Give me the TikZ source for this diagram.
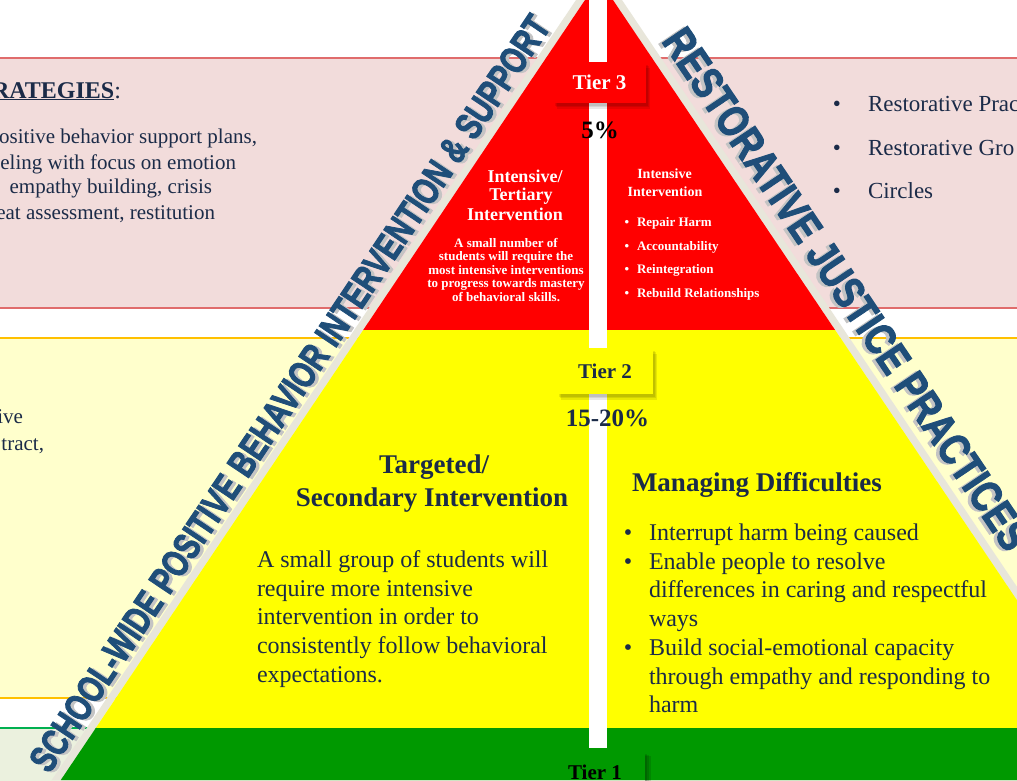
\documentclass[tikz,border=0pt]{standalone}
\usepackage{fontspec}
\setmainfont{Liberation Serif}
\newfontfamily\diagfont{Liberation Sans}[FakeBold=2.5]
\usepackage{graphicx}
\definecolor{pinkfill}{HTML}{F2DCDB}
\definecolor{pinkline}{HTML}{E06C6C}
\definecolor{ylwfill}{HTML}{FFFFCC}
\definecolor{ylwline}{HTML}{FFC000}
\definecolor{grnfill}{HTML}{EBF1DE}
\definecolor{grnline}{HTML}{00B050}
\definecolor{tred}{HTML}{FF0000}
\definecolor{tyellow}{HTML}{FFFF00}
\definecolor{tgreen}{HTML}{009900}
\definecolor{navy}{HTML}{1B2B48}
\definecolor{diagblue}{HTML}{1F4E79}
\definecolor{diagshadow}{HTML}{C4C4C4}
\definecolor{stripcol}{HTML}{E8E6DA}
\newcommand\myfs[1]{\fontsize{#1}{#1}\selectfont}
\begin{document}
\begin{tikzpicture}[x=1pt,y=-1pt,
  lbl/.style={inner sep=0pt,outer sep=0pt,anchor=base},
  lw/.style={lbl,anchor=base west},
  le/.style={lbl,anchor=base east},
  navytxt/.style={text=navy},
  whitetxt/.style={text=white},
  softshadow/.style={
    preaction={fill=black,opacity=0.09,transform canvas={xshift=2pt,yshift=-2.5pt}},
    preaction={fill=black,opacity=0.09,transform canvas={xshift=3pt,yshift=-4pt}},
    preaction={fill=black,opacity=0.09,transform canvas={xshift=4pt,yshift=-5.5pt}}},
  tierbox/.style={inner sep=0pt,minimum width=93,minimum height=41,softshadow},
  diag/.style={inner sep=0pt,outer sep=0pt,anchor=base},
  lightbox/.style={line width=1.5pt},
]
\useasboundingbox (0,0) rectangle (1017,780);
\clip (0,0) rectangle (1017,780);
\fill[white] (0,0) rectangle (1017,780);
% background strategy boxes
\draw[lightbox,draw=pinkline,fill=pinkfill] (-10,58) rectangle (1027,308);
\draw[lightbox,draw=ylwline,fill=ylwfill] (-10,338) rectangle (1027,698);
\draw[lightbox,draw=grnline,fill=grnfill] (-10,728) rectangle (1027,800);
% edge strips
\fill[stripcol] (576,0) -- (585,0) -- (60.8,780) -- (51.8,780) -- cycle;
\fill[stripcol] (613,0) -- (622,0) -- (1147,780) -- (1138,780) -- cycle;
% pyramid tiers
\fill[tred] (585,0) -- (613,0) -- (835.1,330) -- (363.2,330) -- cycle;
\fill[tyellow] (363.2,330) -- (835.1,330) -- (1103,728) -- (95.8,728) -- cycle;
\fill[tgreen] (95.8,728) -- (1103,728) -- (1138,780) -- (60.8,780) -- cycle;
% white divider
\fill[white] (589,0) rectangle (607,748);
% diagonal titles
\node[diag,text=diagshadow,rotate=56.1] (lshadow) at (304,401.5)
  {\diagfont\bfseries\myfs{38}\scalebox{0.755}[1]{SCHOOL-WIDE POSITIVE BEHAVIOR INTERVENTION \& SUPPORT}};
\node[diag,text=diagblue,rotate=56.1] (ltitle) at (300.5,400.5)
  {\diagfont\bfseries\myfs{38}\scalebox{0.755}[1]{SCHOOL-WIDE POSITIVE BEHAVIOR INTERVENTION \& SUPPORT}};
\node[diag,text=diagshadow,rotate=-56] (rshadow) at (830.5,298.5)
  {\diagfont\bfseries\myfs{44}\scalebox{0.8}[1]{RESTORATIVE JUSTICE PRACTICES}};
\node[diag,text=diagblue,rotate=-56] (rtitle) at (834,297.5)
  {\diagfont\bfseries\myfs{44}\scalebox{0.8}[1]{RESTORATIVE JUSTICE PRACTICES}};
% tier boxes
\node[tierbox,fill=tred,text=white,font=\bfseries\myfs{21}] (t3) at (599.5,82.5) {Tier 3};
\node[tierbox,fill=tyellow,text=navy,font=\bfseries\myfs{21},minimum width=96,minimum height=46] (t2) at (605,371) {Tier 2};
\node[inner sep=0pt,minimum width=95,minimum height=40] (t1) at (597.5,772) {};
\fill[black,opacity=0.12] ([xshift=0pt,yshift=-2pt]t1.north east) rectangle ([xshift=2pt]t1.south east);
\fill[black,opacity=0.12] ([xshift=0pt,yshift=-3pt]t1.north east) rectangle ([xshift=4pt]t1.south east);
\fill[black,opacity=0.12] ([xshift=0pt,yshift=-4pt]t1.north east) rectangle ([xshift=6pt]t1.south east);
\node[lbl,text=black,font=\bfseries\myfs{21}] (t1txt) at (595,779) {Tier 1};
\node[lbl,text=black,font=\bfseries\myfs{25}] (p3) at (600,138) {5\%};
\node[lbl,navytxt,font=\bfseries\myfs{25}] (p2) at (607.5,426.5) {15-20\%};
% tier 3 left
\node[lbl,whitetxt,font=\bfseries\myfs{18}] (h3a) at (525,182) {Intensive/};
\node[lbl,whitetxt,font=\bfseries\myfs{18}] (h3b) at (521,200.5) {Tertiary};
\node[lbl,whitetxt,font=\bfseries\myfs{18}] (h3c) at (515,220) {Intervention};
\node[lbl,whitetxt,font=\bfseries\myfs{13}] (d3a) at (506,247) {A small number of};
\node[lbl,whitetxt,font=\bfseries\myfs{13}] (d3b) at (506,260.5) {students will require the};
\node[lbl,whitetxt,font=\bfseries\myfs{13}] (d3c) at (506,274) {most intensive interventions};
\node[lbl,whitetxt,font=\bfseries\myfs{13}] (d3d) at (506,287.5) {to progress towards mastery};
\node[lbl,whitetxt,font=\bfseries\myfs{13}] (d3e) at (506,301) {of behavioral skills.};
% tier 3 right
\node[lbl,whitetxt,font=\bfseries\myfs{14}] (r3a) at (664.5,178) {Intensive};
\node[lbl,whitetxt,font=\bfseries\myfs{14}] (r3b) at (665,196) {Intervention};
\foreach \yy/\tt [count=\i] in {226.7/Repair Harm,250/Accountability,273.5/Reintegration,297.7/Rebuild Relationships}{
  \node[lbl,whitetxt,font=\bfseries\myfs{13}] (r3bul\i) at (627,\yy) {•};
  \node[lw,whitetxt,font=\bfseries\myfs{13}] (r3item\i) at (637,\yy) {\tt};
}
% tier 2 left
\node[lbl,navytxt,font=\bfseries\myfs{27}] (h2a) at (434,473) {Targeted/};
\node[lbl,navytxt,font=\bfseries\myfs{27}] (h2b) at (432,506) {Secondary Intervention};
\node[lw,navytxt,font=\myfs{24}] (d2a) at (257,567) {A small group of students will};
\node[lw,navytxt,font=\myfs{24}] (d2b) at (257,596) {require more intensive};
\node[lw,navytxt,font=\myfs{24}] (d2c) at (257,624.5) {intervention in order to};
\node[lw,navytxt,font=\myfs{24}] (d2d) at (257,653) {consistently follow behavioral};
\node[lw,navytxt,font=\myfs{24}] (d2e) at (257,682) {expectations.};
% tier 2 right
\node[lw,navytxt,font=\bfseries\myfs{27}] (h2r) at (632,491) {Managing Difficulties};
\node[lbl,navytxt,font=\myfs{24}] (m2b1) at (628,540) {•};
\node[lbl,navytxt,font=\myfs{24}] (m2b2) at (628,569) {•};
\node[lbl,navytxt,font=\myfs{24}] (m2b3) at (628,655) {•};
\node[lw,navytxt,font=\myfs{24}] (m2a) at (649,540) {Interrupt harm being caused};
\node[lw,navytxt,font=\myfs{24}] (m2b) at (649,569) {Enable people to resolve};
\node[lw,navytxt,font=\myfs{24}] (m2c) at (649,597.5) {differences in caring and respectful};
\node[lw,navytxt,font=\myfs{24}] (m2d) at (649,626) {ways};
\node[lw,navytxt,font=\myfs{24}] (m2e) at (649,655) {Build social-emotional capacity};
\node[lw,navytxt,font=\myfs{24}] (m2f) at (649,684) {through empathy and responding to};
\node[lw,navytxt,font=\myfs{24}] (m2g) at (649,712.5) {harm};
% left pink strategies text
\node[le,navytxt,font=\myfs{24}] (sthead) at (121,98) {\underline{\textbf{RATEGIES}}:};
\node[le,navytxt,font=\myfs{21}] (st1) at (257,143) {ositive behavior support plans,};
\node[le,navytxt,font=\myfs{21}] (st2) at (236,169) {eling with focus on emotion};
\node[le,navytxt,font=\myfs{21}] (st3) at (212,193.5) {empathy building, crisis};
\node[le,navytxt,font=\myfs{21}] (st4) at (215,219) {eat assessment, restitution};
% left yellow text
\node[le,navytxt,font=\myfs{21}] (sy1) at (23,423) {ive};
\node[le,navytxt,font=\myfs{21}] (sy2) at (44,450) {tract,};
% right pink bullets
\node[lbl,navytxt,font=\myfs{23}] (rb1) at (837,111) {•};
\node[lbl,navytxt,font=\myfs{23}] (rb2) at (837,155) {•};
\node[lbl,navytxt,font=\myfs{23}] (rb3) at (837,198) {•};
\node[lw,navytxt,font=\myfs{23}] (rp1) at (868,111) {Restorative Prac};
\node[lw,navytxt,font=\myfs{23}] (rp2) at (868,155) {Restorative Gro};
\node[lw,navytxt,font=\myfs{23}] (rp3) at (868,198) {Circles};
\end{tikzpicture}
\end{document}
